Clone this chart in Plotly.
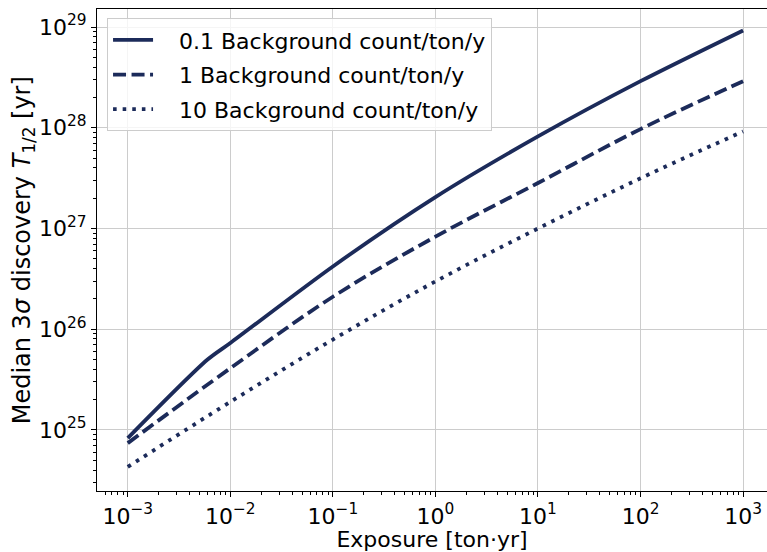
import plotly.graph_objects as go

exposure_solid = [1e-3, 6e-3, 1e-2, 1e-1, 1, 10, 100, 1000]
t_bkg_01 = [8.3e24, 5.0e25, 7.3e25, 4.2e26, 2.05e27, 8.2e27, 2.9e28, 9.25e28]
exposure = [1e-3, 1e-2, 1e-1, 1, 10, 100, 1000]
t_bkg_1 = [7.4e24, 4.1e25, 2.1e26, 8.3e26, 2.83e27, 9.7e27, 2.9e28]
t_bkg_10 = [4.3e24, 1.9e25, 7.9e25, 2.98e26, 1.0e27, 3.15e27, 9.2e27]
labels = ["0.1 Background count/ton/y", "1 Background count/ton/y", "10 Background count/ton/y"]

x_tickvals = [1e-3, 1e-2, 1e-1, 1, 10, 100, 1000]
x_ticktext = ["10<sup>−3</sup>", "10<sup>−2</sup>", "10<sup>−1</sup>", "10<sup>0</sup>",
              "10<sup>1</sup>", "10<sup>2</sup>", "10<sup>3</sup>"]
y_tickvals = [1e25, 1e26, 1e27, 1e28, 1e29]
y_ticktext = ["10<sup>25</sup>", "10<sup>26</sup>", "10<sup>27</sup>", "10<sup>28</sup>", "10<sup>29</sup>"]

color = "#1c2b5a"
font = "DejaVu Sans"
pad = "\u00a0\u00a0\u00a0"

fig = go.Figure()
series = [(exposure_solid, t_bkg_01), (exposure, t_bkg_1), (exposure, t_bkg_10)]
dashes = ["solid", "13px,5.5px", "3.6px,6px"]
smooth = [0.8, 1.0, 1.0]
for i, ((xs, ys), lab, d, s) in enumerate(zip(series, labels, dashes, smooth)):
    fig.add_trace(go.Scatter(x=xs, y=ys, mode="lines", name=pad + lab,
                             legendgroup=str(i),
                             line=dict(color=color, width=3.8, dash=d,
                                       shape="spline", smoothing=s)))

minor_x = [float(m) * 10.0 ** k for k in range(-4, 4) for m in range(2, 10)]
minor_y = [float(m) * 10.0 ** k for k in range(24, 30) for m in range(2, 10)]

fig.update_xaxes(type="log", range=[-3.3, 3.233],
                 tickvals=x_tickvals, ticktext=x_ticktext,
                 ticks="outside", ticklen=5, tickwidth=1, tickcolor="black",
                 showline=True, linecolor="black", linewidth=1.2, mirror=True,
                 showgrid=True, gridcolor="#cccccc", gridwidth=1, zeroline=False,
                 minor=dict(tickvals=minor_x, ticks="outside", ticklen=3, tickcolor="black", showgrid=False),
                 tickfont=dict(family=font, size=22, color="black"),
                 title=dict(text="Exposure [ton·yr]", font=dict(family=font, size=22, color="black"), standoff=5))
fig.update_yaxes(type="log", range=[24.394, 29.179],
                 tickvals=y_tickvals, ticktext=y_ticktext,
                 ticks="outside", ticklen=5, tickwidth=1, tickcolor="black",
                 showline=True, linecolor="black", linewidth=1.2, mirror=False,
                 showgrid=True, gridcolor="#cccccc", gridwidth=1, zeroline=False,
                 minor=dict(tickvals=minor_y, ticks="outside", ticklen=3, tickcolor="black", showgrid=False),
                 tickfont=dict(family=font, size=22, color="black"))

fig.add_annotation(text="Median 3<i>σ</i> discovery <i>T</i><sub>1/2</sub> [yr]",
                   xref="paper", yref="paper", x=-0.11, y=0.5,
                   xanchor="center", yanchor="middle", textangle=-90, showarrow=False,
                   font=dict(family=font, size=24, color="black"))

fig.update_layout(width=767, height=552,
                  margin=dict(l=97, r=0, t=9, b=61),
                  paper_bgcolor="white", plot_bgcolor="white",
                  font=dict(family=font, color="black"),
                  legend=dict(x=0.015, y=0.981, xanchor="left", yanchor="top",
                              bgcolor="rgba(255,255,255,0.8)", bordercolor="#cccccc", borderwidth=1,
                              font=dict(family=font, size=22, color="black"),
                              traceorder="grouped", tracegroupgap=3,
                              itemwidth=40))

fig.write_html("out.html")
